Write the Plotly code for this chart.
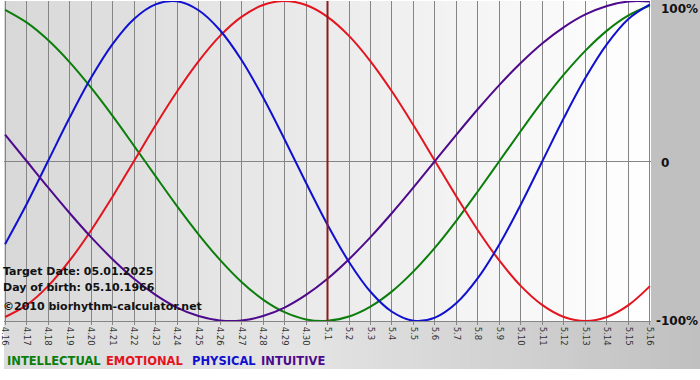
import plotly.graph_objects as go

dates = ["4.16", "4.17", "4.18", "4.19", "4.20", "4.21", "4.22", "4.23", "4.24", "4.25",
         "4.26", "4.27", "4.28", "4.29", "4.30", "5.1", "5.2", "5.3", "5.4", "5.5",
         "5.6", "5.7", "5.8", "5.9", "5.10", "5.11", "5.12", "5.13", "5.14", "5.15", "5.16"]
target_label = "5.1"

intellectual = [0.945, 0.866, 0.756, 0.618, 0.458, 0.282, 0.095, -0.095, -0.282, -0.458,
                -0.618, -0.756, -0.866, -0.945, -0.990, -0.999, -0.972, -0.910, -0.815, -0.690,
                -0.541, -0.372, -0.189, 0.0, 0.189, 0.372, 0.541, 0.690, 0.815, 0.910, 0.972]
emotional = [-0.975, -0.901, -0.782, -0.623, -0.434, -0.223, 0.0, 0.223, 0.434, 0.623,
             0.782, 0.901, 0.975, 1.0, 0.975, 0.901, 0.782, 0.623, 0.434, 0.223,
             0.0, -0.223, -0.434, -0.623, -0.782, -0.901, -0.975, -1.0, -0.975, -0.901, -0.782]
physical = [-0.520, -0.270, 0.0, 0.270, 0.520, 0.731, 0.888, 0.979, 0.998, 0.942,
            0.817, 0.631, 0.398, 0.136, -0.136, -0.398, -0.631, -0.817, -0.942, -0.998,
            -0.979, -0.888, -0.731, -0.520, -0.270, 0.0, 0.270, 0.520, 0.731, 0.888, 0.979]
intuitive = [0.165, 0.0, -0.165, -0.325, -0.476, -0.614, -0.736, -0.837, -0.916, -0.969,
             -0.997, -0.997, -0.969, -0.916, -0.837, -0.736, -0.614, -0.476, -0.325, -0.165,
             0.0, 0.165, 0.325, 0.476, 0.614, 0.736, 0.837, 0.916, 0.969, 0.997, 0.997]

series = [("INTELLECTUAL", intellectual, "#0b7d0b"),
          ("EMOTIONAL", emotional, "#e4141e"),
          ("PHYSICAL", physical, "#1010d0"),
          ("INTUITIVE", intuitive, "#4e0a8c")]

y_ticks = [1, 0, -1]
y_tick_text = ["100%", "0", "-100%"]

info_lines = ["Target Date: 05.01.2025", "Day of birth: 05.10.1966", "\u00a92010 biorhythm-calculator.net"]

W, H = 700, 380
L, R, T, B = 0, 49, 1, 59
pw, ph = W - L - R, H - T - B

x = list(range(len(dates)))
fig = go.Figure()
for name, vals, col in series:
    fig.add_trace(go.Scatter(x=x, y=vals, mode="lines", name=name,
                             line=dict(color=col, width=2, shape="spline", smoothing=1.0),
                             hoverinfo="skip"))

def px2px(p):
    return p / pw

def py2py(p):
    # pixel from top -> paper y
    return (T + ph - p) / ph

def lerp(c0, c1, t):
    return int(round(c0 + (c1 - c0) * t))

shapes = []
# plot area gradient
N = 60
for i in range(N):
    t = (i + 0.5) / N
    g = lerp(0xd8, 0xff, t)
    shapes.append(dict(type="rect", xref="paper", yref="paper", x0=i / N, x1=(i + 1) / N + 0.002,
                       y0=0, y1=1, fillcolor=f"rgb({g},{g},{g})", line=dict(width=0), layer="below"))
# right gray band
shapes.append(dict(type="rect", xref="paper", yref="paper", x0=1, x1=px2px(W) + 0.01,
                   y0=py2py(369), y1=py2py(-2), fillcolor="#c0c0c0", line=dict(width=0), layer="below"))
# bottom band gradient
M = 70
for i in range(M):
    xa = i * W / M
    xb = (i + 1) * W / M
    xm = (xa + xb) / 2
    if xm < 300:
        g = lerp(0xdc, 0xe4, xm / 300)
    else:
        g = lerp(0xe4, 0xc0, (xm - 300) / 400)
    shapes.append(dict(type="rect", xref="paper", yref="paper", x0=px2px(xa), x1=px2px(xb) + 0.002,
                       y0=py2py(369), y1=0, fillcolor=f"rgb({g},{g},{g})", line=dict(width=0), layer="below"))
# target date line
ti = dates.index(target_label)
shapes.append(dict(type="line", xref="x", yref="paper", x0=ti, x1=ti, y0=0, y1=1,
                   line=dict(color="#8a1c1c", width=2), layer="above"))

annotations = []
for yv, txt in zip(y_ticks, y_tick_text):
    annotations.append(dict(x=1, xref="paper", y=yv, yref="y", text=f"<b>{txt}</b>",
                            xanchor="left", yanchor="middle", xshift=8 if txt != "-100%" else 3,
                            yshift=(-8 if yv == 1 else (0 if yv == -1 else -2)), showarrow=False,
                            font=dict(family="DejaVu Sans", size=12, color="#111111")))
for k, txt in enumerate(info_lines):
    ypix = [271, 287, 306][k]
    annotations.append(dict(x=px2px(-3), xref="paper", y=py2py(ypix), yref="paper", text=f"<b>{txt}</b>",
                            xanchor="left", yanchor="middle", showarrow=False,
                            font=dict(family="DejaVu Sans", size=11, color="#111111")))
leg_x = [1, 101, 187, 257]
for (name, vals, col), lx in zip(series, leg_x):
    annotations.append(dict(x=px2px(lx), xref="paper", y=py2py(361), yref="paper", text=f"<b>{name}</b>",
                            xanchor="left", yanchor="middle", showarrow=False,
                            font=dict(family="DejaVu Sans", size=11.5, color=col)))

fig.update_layout(
    width=W, height=H, margin=dict(l=L, r=R, t=T, b=B, pad=0),
    paper_bgcolor="white", plot_bgcolor="rgba(0,0,0,0)",
    showlegend=False, shapes=shapes, annotations=annotations,
    xaxis=dict(range=[-0.05, len(dates) - 1 + 0.05], tickmode="array", tickvals=x, ticktext=dates,
               tickangle=90, tickfont=dict(family="DejaVu Sans", size=8.5, color="#333333"),
               ticklabeloverflow="allow",
               showgrid=True, gridcolor="#858585", gridwidth=1, ticks="outside", ticklen=3,
               tickcolor="#858585", showline=True, linecolor="#858585", zeroline=False, fixedrange=True),
    yaxis=dict(range=[-1.0, 1.0], tickmode="array", tickvals=y_ticks, showticklabels=False,
               showgrid=True, gridcolor="#858585", gridwidth=1, zeroline=False, fixedrange=True),
)

fig.write_html("out.html", config={"displayModeBar": False},
               post_script="document.body.style.margin='0';document.body.style.padding='0';")
